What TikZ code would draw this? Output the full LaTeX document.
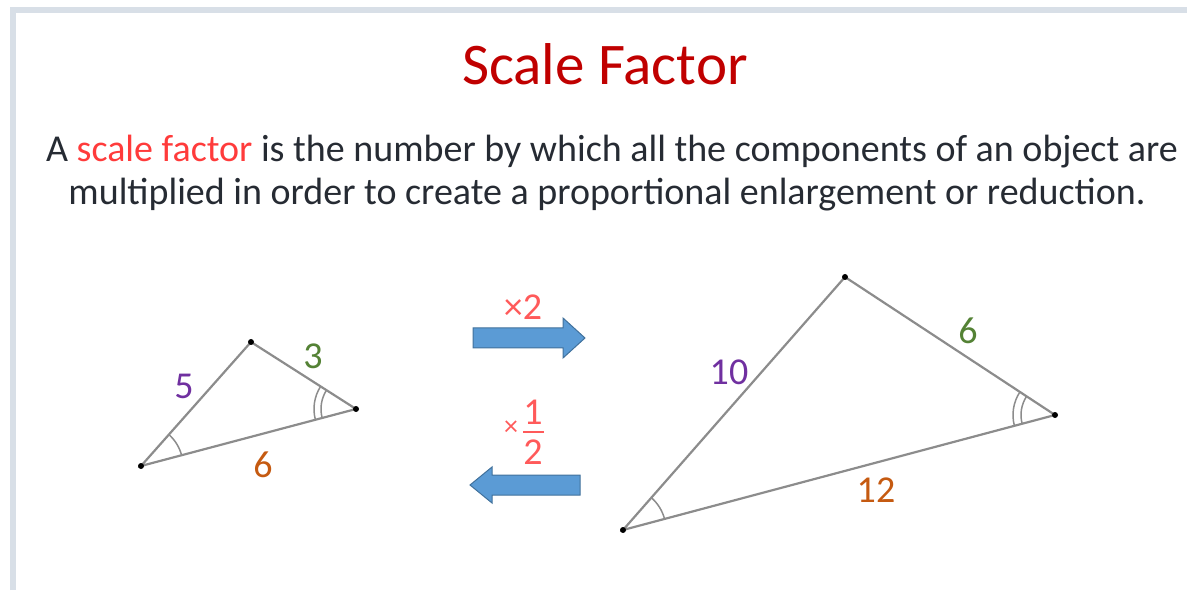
\documentclass[tikz,border=0pt]{standalone}
\usepackage{fontspec}
\setmainfont{Carlito}
\usetikzlibrary{angles}
\definecolor{titlered}{HTML}{C00000}
\definecolor{keyred}{HTML}{FF3B3B}
\definecolor{opred}{HTML}{FF5A5A}
\definecolor{bodytext}{HTML}{262B33}
\definecolor{sidegray}{HTML}{8C8C8C}
\definecolor{arrowblue}{HTML}{5B9BD5}
\definecolor{arrowedge}{HTML}{41719C}
\definecolor{bordergray}{HTML}{D8DFE7}
\definecolor{lblpurple}{HTML}{7030A0}
\definecolor{lblgreen}{HTML}{548235}
\definecolor{lblorange}{HTML}{C55A11}
\tikzset{
  side/.style={draw=sidegray, line width=2.2pt},
  anglemark/.style={draw=sidegray, line width=1.5pt},
  lbl/.style={inner sep=0pt, font=\fontsize{38}{38}\selectfont},
  blockarrow/.style={fill=arrowblue, draw=arrowedge, line width=1pt}
}

\begin{document}
\begin{tikzpicture}[x=1pt,y=1pt]
\useasboundingbox (0,0) rectangle (1187,590);
% frame
\draw[bordergray, line width=6pt] (13,0) -- (13,580) -- (1187,580);

% heading and definition
\node[anchor=base, inner sep=0pt, text=titlered, font=\fontsize{59}{59}\selectfont] (title) at (605,505) {Scale Factor};
\node[anchor=base, inner sep=0pt, text=bodytext, font=\fontsize{38}{43}\selectfont] (def1) at (612,428)
  {A \textcolor{keyred}{scale factor} is the number by which all the components of an object are};
\node[anchor=base, inner sep=0pt, text=bodytext, font=\fontsize{38}{43}\selectfont] (def2) at (607,385)
  {multiplied in order to create a proportional enlargement or reduction.};

% Left triangle
\coordinate (sA) at (141,124);
\coordinate (sB) at (251,248);
\coordinate (sC) at (356,181);
\draw[side] (sA) -- (sB) -- (sC) -- cycle;
\pic[anglemark, angle radius=42pt] {angle=sC--sA--sB};
\pic[anglemark, angle radius=35pt] {angle=sB--sC--sA};
\pic[anglemark, angle radius=42pt] {angle=sB--sC--sA};
\foreach \v in {sA,sB,sC} \fill (\v) circle (3);
\node[lbl, text=lblpurple] (s5) at (184,204) {5};
\node[lbl, text=lblgreen] (s3) at (313,234) {3};
\node[lbl, text=lblorange] (s6) at (263,125) {6};

% Right triangle
\coordinate (bA) at (623,60);
\coordinate (bB) at (845,313);
\coordinate (bC) at (1055,175);
\draw[side] (bA) -- (bB) -- (bC) -- cycle;
\pic[anglemark, angle radius=43pt] {angle=bC--bA--bB};
\pic[anglemark, angle radius=34pt] {angle=bB--bC--bA};
\pic[anglemark, angle radius=42pt] {angle=bB--bC--bA};
\foreach \v in {bA,bB,bC} \fill (\v) circle (3);
\node[lbl, text=lblpurple] (b10) at (729,218) {10};
\node[lbl, text=lblgreen] (b6) at (968,259) {6};
\node[lbl, text=lblorange] (b12) at (876,100) {12};

% enlarge and reduce
\draw[blockarrow] (473,242) -- (563,242) -- (563,232) -- (585,252) -- (563,272) -- (563,262) -- (473,262) -- cycle;
\node[lbl, text=opred] (twice) at (523,283) {×2};
\draw[blockarrow] (580,95) -- (492,95) -- (492,87) -- (470,105) -- (492,123) -- (492,115) -- (580,115) -- cycle;
\node[lbl, text=opred, font=\fontsize{28}{28}\selectfont] (times) at (511,162) {×};
\node[lbl, text=opred] (num) at (533,178) {1};
\node[lbl, text=opred] (den) at (533,138) {2};
\draw[opred, line width=1.8pt] (523,158) -- (544,158);
\end{tikzpicture}
\end{document}
